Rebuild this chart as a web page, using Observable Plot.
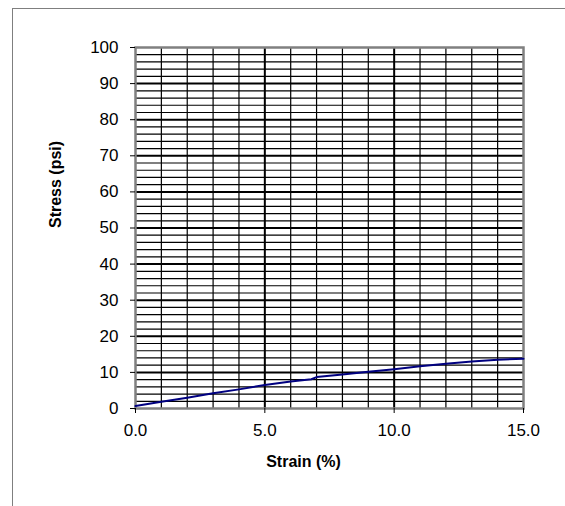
<!DOCTYPE html>
<html>
<head>
<meta charset="utf-8">
<script src="https://cdn.jsdelivr.net/npm/d3@7"></script>
<script src="https://cdn.jsdelivr.net/npm/@observablehq/plot@0.6"></script>
<style>
  html, body { margin: 0; padding: 0; background: white; overflow: hidden; }
  #wrap { position: relative; width: 565px; height: 506px; }
  #border { position: absolute; left: 12px; top: 8px; width: 700px; height: 700px;
            border-left: 1.5px solid #7f7f7f; border-top: 1.5px solid #7f7f7f; pointer-events: none; }
</style>
</head>
<body>
<div id="wrap"><div id="border"></div></div>
<script>
// Data
const strain = [0, 1, 2, 3, 4, 5, 6, 6.8, 7.0, 8, 9, 10, 11, 12, 13, 14, 15];
const stress = [0.7, 1.9, 3.0, 4.2, 5.3, 6.5, 7.5, 8.1, 8.7, 9.4, 10.2, 10.9, 11.7, 12.4, 13.0, 13.5, 13.8];

const xTicks = [0, 5, 10, 15];
const yTicks = [0, 10, 20, 30, 40, 50, 60, 70, 80, 90, 100];
const xMajorGrid = [5, 10];
const xMinorGrid = [1, 2, 3, 4, 6, 7, 8, 9, 11, 12, 13, 14];
const yMajorGrid = [10, 20, 30, 40, 50, 60, 70, 80, 90];
const yMinorGrid = d3.range(2, 100, 2).filter(v => v % 10 !== 0);

const xTitle = "Strain (%)";
const yTitle = "Stress (psi)";

const rows = strain.map((s, i) => ({strain: s, stress: stress[i]}));

const chart = Plot.plot({
  width: 565,
  height: 506,
  marginLeft: 135,
  marginRight: 42,
  marginTop: 47,
  marginBottom: 98,
  x: {domain: [0, 15]},
  y: {domain: [0, 100]},
  style: {fontFamily: "'Liberation Sans', Arial, sans-serif", fontSize: "17px", color: "black", background: "transparent", overflow: "visible"},
  marks: [
    Plot.ruleY(yMinorGrid, {stroke: "black", strokeWidth: 1.2}),
    Plot.ruleX(xMinorGrid, {stroke: "black", strokeWidth: 1.2}),
    Plot.ruleY(yMajorGrid, {stroke: "black", strokeWidth: 2}),
    Plot.ruleX(xMajorGrid, {stroke: "black", strokeWidth: 2}),
    Plot.frame({stroke: "#808080", strokeWidth: 2.5}),
    Plot.line(rows, {x: "strain", y: "stress", stroke: "#000080", strokeWidth: 2}),
    Plot.axisY({ticks: yTicks, tickSize: 5, tickPadding: 12, label: null, stroke: "black"}),
    Plot.axisX({ticks: xTicks, tickFormat: d => d.toFixed(1), tickSize: 5, tickPadding: 10, label: null, stroke: "black"}),
    Plot.text([xTitle], {text: d => d, frameAnchor: "bottom", dx: -26, dy: 58, fontWeight: "bold", fontSize: 16}),
    Plot.text([yTitle], {text: d => d, frameAnchor: "left", rotate: -90, dx: -80, fontWeight: "bold", fontSize: 16})
  ]
});
document.getElementById("wrap").appendChild(chart);
chart.style.position = "absolute";
chart.style.left = "0px";
chart.style.top = "0px";
</script>
</body>
</html>
